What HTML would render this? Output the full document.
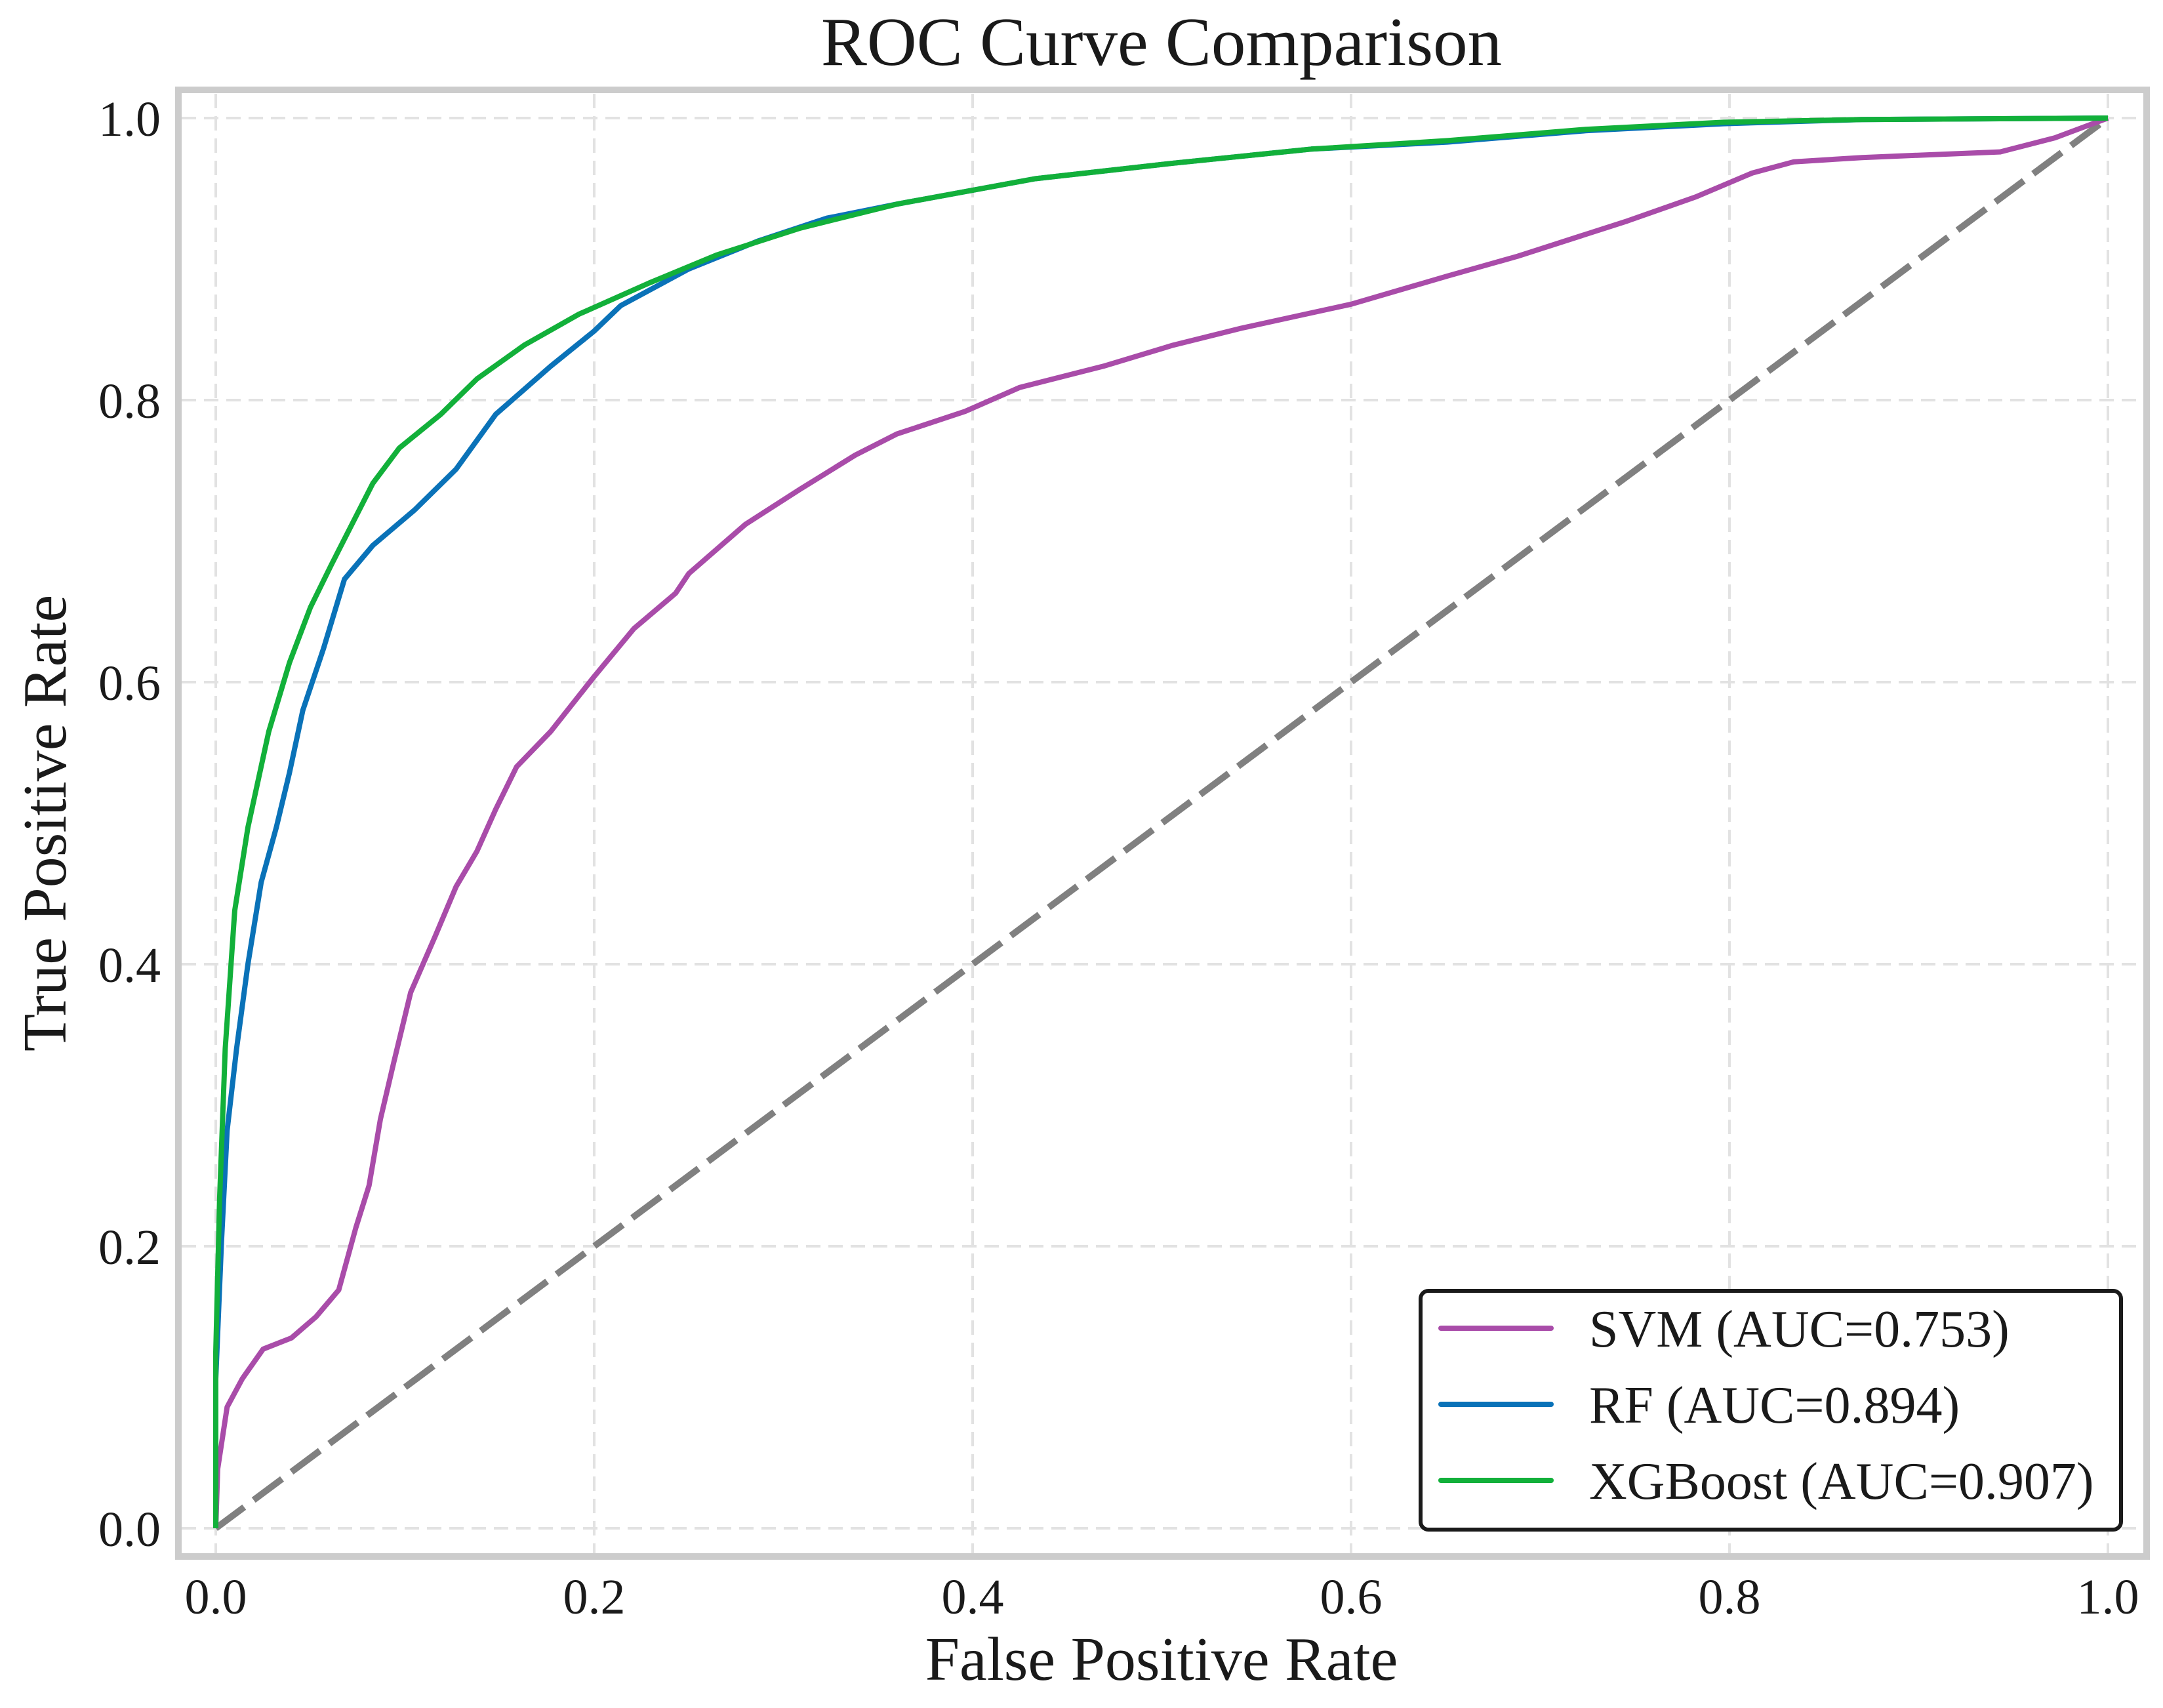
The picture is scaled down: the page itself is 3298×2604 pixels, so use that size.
<!DOCTYPE html>
<html><head><meta charset="utf-8"><style>
html,body{margin:0;padding:0;background:#fff}
svg{display:block}
text{font-family:"Liberation Serif",serif;fill:#1a1a1a}
</style></head><body>
<svg id="chart" width="3298" height="2604" viewBox="0 0 3298 2604" xmlns="http://www.w3.org/2000/svg">
<g id="grid"></g>
<g id="curves"></g>
<rect x="272" y="137" width="3001" height="2236" fill="none" stroke="#cccccc" stroke-width="10"/>
<g id="ticks"></g>
<text x="1771" y="99" font-size="105" text-anchor="middle">ROC Curve Comparison</text>
<text x="1771" y="2561" font-size="94" text-anchor="middle">False Positive Rate</text>
<text x="0" y="0" font-size="94" text-anchor="middle" transform="translate(100,1255) rotate(-90)">True Positive Rate</text>
<g id="legend">
<rect x="2166" y="1968" width="1068" height="364" rx="12" fill="#fff" stroke="#1a1a1a" stroke-width="6"/>
</g>
</svg>
<script>
const ticks = [0, 0.2, 0.4, 0.6, 0.8, 1.0];
const tickLabels = ["0.0", "0.2", "0.4", "0.6", "0.8", "1.0"];
const seriesNames = ["SVM (AUC=0.753)", "RF (AUC=0.894)", "XGBoost (AUC=0.907)"];
const seriesColors = ["#a94ca9", "#0a72b8", "#12b03a"];
const svmX = [0,0.001,0.006,0.014,0.025,0.04,0.053,0.065,0.074,0.081,0.087,0.094,0.103,0.116,0.127,0.138,0.148,0.159,0.177,0.2,0.221,0.243,0.25,0.28,0.309,0.338,0.36,0.396,0.425,0.469,0.506,0.542,0.6,0.651,0.688,0.746,0.782,0.812,0.834,0.87,0.943,0.972,1];
const svmY = [0,0.042,0.086,0.106,0.127,0.135,0.15,0.169,0.213,0.243,0.29,0.33,0.38,0.42,0.455,0.48,0.51,0.54,0.565,0.604,0.638,0.663,0.677,0.712,0.737,0.761,0.776,0.792,0.809,0.824,0.839,0.851,0.868,0.888,0.902,0.927,0.944,0.961,0.969,0.972,0.976,0.986,1];
const rfX = [0,0,0.003,0.006,0.011,0.017,0.024,0.032,0.039,0.046,0.057,0.068,0.083,0.105,0.127,0.148,0.177,0.2,0.214,0.25,0.287,0.323,0.36,0.433,0.506,0.579,0.651,0.724,0.797,0.87,1];
const rfY = [0,0.106,0.203,0.282,0.34,0.4,0.458,0.497,0.536,0.58,0.624,0.673,0.697,0.722,0.751,0.79,0.824,0.849,0.867,0.893,0.913,0.929,0.939,0.957,0.968,0.978,0.983,0.991,0.996,0.999,1];
const xgbX = [0,0,0.002,0.005,0.01,0.017,0.028,0.039,0.05,0.061,0.072,0.083,0.097,0.119,0.138,0.163,0.192,0.229,0.265,0.309,0.36,0.433,0.506,0.579,0.651,0.724,0.797,0.87,1];
const xgbY = [0,0.125,0.233,0.34,0.438,0.497,0.565,0.614,0.653,0.683,0.712,0.741,0.766,0.79,0.815,0.839,0.861,0.883,0.903,0.922,0.939,0.957,0.968,0.978,0.984,0.992,0.997,0.999,1];

const NS = "http://www.w3.org/2000/svg";
const X0 = 329, X1 = 3214, Y0 = 2330, Y1 = 180;
function sx(v){ return X0 + v*(X1-X0); }
function sy(v){ return Y0 - v*(Y0-Y1); }
function mk(tag, attrs, parent){
  const e = document.createElementNS(NS, tag);
  for (const k in attrs) e.setAttribute(k, attrs[k]);
  parent.appendChild(e);
  return e;
}
const grid = document.getElementById('grid');
const tg = document.getElementById('ticks');
ticks.forEach((t, i) => {
  const gv = mk('line', {x1:sx(t), x2:sx(t), y1:143, y2:2368, stroke:'#e2e2e2', 'stroke-width':4, 'stroke-dasharray':'22 12'}, grid);
  
  
  const gh = mk('line', {x1:277, x2:3268, y1:sy(t), y2:sy(t), stroke:'#e2e2e2', 'stroke-width':4, 'stroke-dasharray':'22 12'}, grid);
  
  
  const xt = mk('text', {x:sx(t), y:2460, 'font-size':76, 'text-anchor':'middle'}, tg);
  xt.textContent = tickLabels[i];
  
  
  const yt = mk('text', {x:245, y:sy(t)+27, 'font-size':76, 'text-anchor':'end'}, tg);
  yt.textContent = tickLabels[i];
  
  
});
const cg = document.getElementById('curves');
const diag = mk('line', {x1:sx(0), y1:sy(0), x2:sx(1), y2:sy(1), stroke:'#808080', 'stroke-width':10, 'stroke-dasharray':'54 18'}, cg);


const allX = [svmX, rfX, xgbX], allY = [svmY, rfY, xgbY];
const curveNames = ['svm-curve', 'rf-curve', 'xgboost-curve'];
allX.forEach((xs, s) => {
  const d = xs.map((x, i) => (i ? 'L' : 'M') + sx(x).toFixed(1) + ' ' + sy(allY[s][i]).toFixed(1)).join(' ');
  const p = mk('path', {d:d, fill:'none', stroke:seriesColors[s], 'stroke-width':8, 'stroke-linejoin':'round'}, cg);
  
  
});
const lg = document.getElementById('legend');
const ly = [2025, 2141, 2257];
seriesNames.forEach((n, s) => {
  const l = mk('line', {x1:2197, x2:2365, y1:ly[s], y2:ly[s], stroke:seriesColors[s], 'stroke-width':8, 'stroke-linecap':'round'}, lg);
  
  
  const t = mk('text', {x:2423, y:ly[s]+28, 'font-size':80}, lg);
  t.textContent = n;
  
  
});
</script>
</body></html>
